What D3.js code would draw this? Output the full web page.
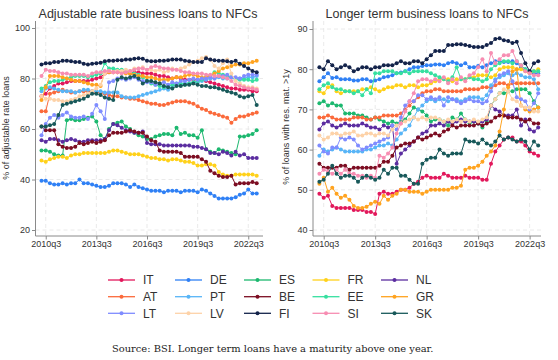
<!DOCTYPE html>
<html>
<head>
<meta charset="utf-8">
<script src="https://cdn.jsdelivr.net/npm/d3@7"></script>
<style>
  html, body { margin: 0; padding: 0; background: #fff; }
  svg { display: block; font-family: "Liberation Sans", Arial, sans-serif; }
</style>
</head>
<body>
<svg id="chart"></svg>
<script>
// quarters shown on the x axis
var quarters = ["2010q2","2010q3","2010q4",
  "2011q1","2011q2","2011q3","2011q4","2012q1","2012q2","2012q3","2012q4",
  "2013q1","2013q2","2013q3","2013q4","2014q1","2014q2","2014q3","2014q4",
  "2015q1","2015q2","2015q3","2015q4","2016q1","2016q2","2016q3","2016q4",
  "2017q1","2017q2","2017q3","2017q4","2018q1","2018q2","2018q3","2018q4",
  "2019q1","2019q2","2019q3","2019q4","2020q1","2020q2","2020q3","2020q4",
  "2021q1","2021q2","2021q3","2021q4","2022q1","2022q2","2022q3","2022q4",
  "2023q1"];
var xTickLabels = ["2010q3","2013q3","2016q3","2019q3","2022q3"];
var adjTicks = [20, 40, 60, 80, 100];
var lngTicks = [40, 50, 60, 70, 80, 90];

var countries = ["IT","DE","ES","FR","NL","AT","PT","BE","EE","GR","LT","LV","FI","SI","SK"];
var colors = ["#e2185b","#2f80f5","#1cb86f","#ffd11a","#5b2da0",
              "#fb6a3b","#58b5f7","#7c0d22","#36e0a0","#ffa31f",
              "#7f8cff","#fdd2a8","#13234a","#f78db2","#18595a"];

// share of adjustable rate loans (left panel)
var adjIT = [73,74,76,77, 78,78,78.5,79, 79,79,79,79, 79.5,80,80.5,82, 82.5,82.5,82.5,82.5, 82.5,82,82.5,82.5, 82,82,82,81.5, 81,81,80.5,80, 80.5,80,79.5,79.5, 79.5,79.5,79.5,79, 78.5,78,77.5,77, 76.5,76,76,75.5, 75.5,75.5,75,75];
var adjDE = [39.5,39.5,38.5,38, 38,38.5,38,38.5, 38.5,40,38.5,38.5, 38,37.5,37,37, 37.5,38.5,38.5,38.5, 38,37,38,37, 36.5,36,35.5,35.5, 35.5,35,35.5,35.5, 35.5,35,35.5,35.5, 35.5,35,36,35.5, 34.5,33.5,32.5,32.5, 32.5,32.5,33,34, 34.5,36,34.5,34.5];
var adjES = [51.5,51.5,51,50, 49.5,49.5,63.5,64, 63.5,63.5,64,64.5, 65,63,57.5,56, 60,62,62.5,63, 61,60,58.5,57.5, 57,56,56,57, 57.5,58,58,57.5, 60.5,58,58.5,57.5, 57.5,56.5,59.5,52, 51,50.5,52,51.5, 51,50.5,50,57, 57,57.5,58,59.5];
var adjFR = [47.5,47,48,48.5, 49,49,48.5,49.5, 50,50,50.5,50.5, 50.5,50.5,50.5,50.5, 51,51.5,51.5,51, 50.5,50,50,50, 49.5,49,48.5,48.5, 48,48,47.5,48, 48,47.5,47,47, 46.5,45.5,45.5,46, 46,45.5,43,42, 41.5,41.5,42,42, 42,42,42,41.5];
var adjNL = [55.5,55,56,56, 55.5,55,55.5,56, 55.5,55,55,55.5, 55.5,55.5,55.5,56, 59.5,62,61.5,60.5, 59.5,59,58.5,58.5, 59,54.5,54,54, 54,53.5,53.5,53.5, 53.5,53.5,53.5,53.5, 53,53,52.5,52, 50.5,50.5,50,51, 50.5,49.5,51,49.5, 50,48.5,48.5,48.5];
var adjAT = [67,67,74,74.5, 75,75.5,75,74.5, 74.5,75,75,75, 75,74.5,74.5,74, 73.5,73,73,72.5, 72.5,72,72,71.5, 71,70.5,70,70, 69.5,69.5,70,70.5, 71,71,71,70.5, 70,69,68,67.5, 66.5,66,65.5,65, 64.5,62.5,64,65, 65,65.5,66,66.5];
var adjPT = [75,76,76.5,76, 75.5,75,75,75, 74.5,75,75.5,75.5, 75,75,75,74.5, 74.5,74.5,74.5,73, 72.5,72.5,72.5,73, 73.5,74,74.5,75, 75.5,76,75.5,77, 77.5,77.5,78,78, 78.5,78.5,79,79.5, 80,80,80.5,80, 80,80.5,79.5,80, 80,80.5,80.5,81];
var adjBE = [61,59.5,59.5,59.5, 54,53,52.5,52.5, 53,54.5,54,54.5, 55,54.5,55,55.5, 57.5,58.5,58.5,58.5, 59,59.5,59,58.5, 58.5,57,55.5,55, 51.5,51,51,51, 51,50.5,49,49, 49,49,48,47, 43.5,42.5,41.5,41, 41,41.5,38,38.5, 38.5,38.5,39,38.5];
var adjEE = [76,77,78.5,79, 79,79.5,80,80.5, 81,81,81,80.5, 81,81.5,82,86, 84,84,83.5,83.5, 83,82.5,82,81.5, 80.5,79,78,77.5, 77,76.5,77,77.5, 78,78,77.5,78, 78.5,79,79.5,80.5, 81,82.5,82,81.5, 81,80.5,80,79.5, 79.5,79.5,79,79.5];
var adjGR = [71.5,76.5,81,81, 81,80.5,80,79.5, 79,79,78.5,78, 77.5,77.5,77,82.5, 82.5,82.5,82.5,82.5, 82,82,81.5,81, 81,80.5,80.5,80, 79.5,79.5,79.5,80, 80.5,80.5,81,81.5, 81.5,81,80.5,80.5, 81,82,83,84, 84.5,85,85.5,85.5, 86,86,86.5,87];
var adjLT = [57.5,62,64.5,65.5, 64.5,65.5,66.5,65, 64.5,64.5,65,64, 66,69.5,67,64, 78.5,79,80,80, 79.5,80,80.5,79.5, 79,78.5,78.5,77.5, 78,78.5,77.5,78.5, 78,79,79,79.5, 80,79.5,80,80, 80.5,80,81,81, 81.5,80.5,80.5,80, 81,81.5,81.5,81.5];
var adjLV = [73,72,72,71.5, 71.5,71,71,71.5, 72,73,73.5,74, 75,76,77.5,82, 83,82.5,83,83, 83.5,83,84,84, 84.5,83.5,83.5,83, 83.5,82.5,83,84, 83.5,84,84.5,85.5, 86.5,87,88,88.5, 87.5,85,84,86, 87.5,82,79,78, 77,76.5,76.5,76];
var adjFI = [85.5,86,86,86.5, 86.5,87,87,86.8, 86.5,86.5,85.8,85.5, 85.8,86,86.2,86.8, 87,87,87.2,87.2, 87.5,87.5,87.8,88, 87.8,87,86.8,86.8, 87,87,87.2,87.5, 87.5,87.5,87,86.8, 86.5,86.5,86.5,88, 87.5,87.2,87,87, 86.8,86.5,87,85.8, 85,84,83,82.5];
var adjSI = [81,83.5,83,83, 82.5,82,82,81.5, 81.5,81.5,81.5,81, 82,82.5,82.5,83, 83,82.5,82.5,82, 82.5,83,83.5,84, 84,83.5,84.5,85, 84.5,84,84,83.5, 83.5,83,82.5,82.5, 82,82,82,81.5, 81.5,81,81,80.5, 80,79,77.5,77, 76.5,76,76,75.5];
var adjSK = [61,61,61.5,62, 65.5,69.5,70,70.5, 71,71.5,72,73, 74,74,73.5,72.5, 72,71.5,79.5,80.5, 80,80.5,81,80, 78,79,79,78.5, 78,77,76.5,76, 77,77,77.5,77.5, 78,77.5,77,77, 76.5,76.5,76,75.5, 75,74.5,74,73, 72.5,73,73.5,69.5];

// share of loans with residual maturity above one year (right panel)
var lngIT = [49,48,48.5,46, 45.5,45.5,45.5,45.5, 45,45,45,44.5, 44.5,44,49,49.5, 49,49,49.5,50, 50,50.5,51.5,52, 53,53.5,53,53, 53,54,53.5,53, 53,53,53.5,53, 53,53,52.5,52.5, 56.5,59.5,61,62.5, 63,63,62,62, 61,59.5,59,58.5];
var lngDE = [77,78,79,77.8, 78,77.5,77.5,77.5, 77.2,77.2,77.5,77.5, 77,77.2,77.5,78, 78.2,78.5,79,79.2, 79.5,80,80.5,80.5, 80.8,81,81,81.2, 81.2,81,81.5,81.8, 81.5,81,81.5,80.5, 80.5,80.8,80.5,81, 81.5,82,82,81.8, 81.8,82,81.5,80.5, 80,79.5,79,79];
var lngES = [71.5,72,71,71.5, 71,71,69,69, 69,68.5,68.5,68, 67.5,68,67.5,67, 66.5,67,66.5,67, 67.5,69,70.5,70, 69.5,68.5,67,67.5, 67.5,67,66,68, 67.5,69,67.5,66.5, 67,66.5,65.5,67, 71,72.5,74,74, 74.5,74.5,75,75, 75,74,72,70.5];
var lngFR = [74.5,74,75.5,76, 74.5,74,74.5,74.5, 74.5,74.5,75,75, 75.5,75,74.5,75, 75.5,75.5,76,76, 75.5,76,76,75.5, 76,76,76.5,77, 77.5,77.5,77.5,77, 77.5,77.5,77.5,78, 78,78.5,78.5,78.5, 78,78.5,80,80.5, 80.5,80.5,80,80, 79.5,79,79.5,80];
var lngNL = [65,66.5,67,66, 65.5,66,66.5,66, 66,66,66.5,66, 65.5,65.5,65,66, 65.5,66,56.5,59, 60,61,62,63, 64,64.5,66,66, 66.5,66,67,66.5, 67,67.5,67,67, 67,66.5,67,67.5, 71,70,69.5,68.5, 68.5,68.5,70,66, 67.5,65,64.5,65.5];
var lngAT = [68,68,68.5,68, 67.5,67.5,67.5,67.5, 68,68,68,67.5, 67.5,68,68,68.5, 68.5,68.5,68.5,69, 70,71,72,73, 74,74.5,74.5,75, 75,74.5,74.5,74.5, 74.5,74.5,75,75, 75,75,75.5,75.5, 75.5,76,76.5,76.5, 76,76.5,76.5,76.5, 76.5,76.5,76.5,76.5];
var lngPT = [58.5,60,59.5,60, 60.5,60,59.5,59.5, 59.5,59.5,59.5,60, 60,60.5,61,61, 61.5,61,62.5,64, 65,66,68,70, 71,72,72.5,72, 72.5,72.5,72,72.5, 72.5,72,72.5,73, 73,73,72.5,73.5, 76,77.5,78,78.5, 79,78.5,79,78.5, 78,78,77.5,75];
var lngBE = [56.5,55.5,55.5,55.5, 55.5,56,56,55, 55.5,55.5,55.5,55.5, 55.5,55.5,56,57, 57,58.5,60.5,61, 61.5,61.5,62,63, 62.5,63,63.5,64, 63.5,64.5,65,66, 65.5,66,66,66, 66,66.5,66,66.5, 67,68,68.5,68.5, 68,68,68,67.5, 67,67.5,66.5,66.5];
var lngEE = [75,76,76.5,75.5, 75,75,74.5,74.5, 74,74.5,73.5,75, 74,79,79,79.5, 79.5,79.5,79,79, 79.5,79,79.5,79.5, 79.5,79.5,79,78.5, 78,77.5,77,78, 80.5,77.5,77.5,78, 77.5,77.5,77,77.5, 80,81,81.5,82, 82,81.5,82,81, 80,79.5,79.5,79.5];
var lngGR = [51.5,53,49.5,50.5, 49,48,48.5,47.5, 46,45.5,45.5,45.8, 46.5,47,46.5,48.5, 47.5,48.5,49,50, 50,49.5,49.5,49.5, 49,49.5,50,50, 50,50,50,50.5, 50.5,51,55,55.5, 55.5,56,57,58.5, 59.5,61,64.5,70, 75.5,79.5,80,71, 70,69.5,70,70.5];
var lngLT = [61,59.5,59,60.5, 60.5,63,62.5,63, 62.5,61,60,60.5, 61,61.5,62,62.5, 63,66,65,68, 71,72,72,73.5, 73.5,72.5,73,72.5, 73,71,73,72.5, 72,71.5,72,72.5, 72,72,71.5,72, 74.5,77,78.5,79, 79.5,77,73,72.5, 72,70,71.5,74];
var lngLV = [63.5,62.5,63,64, 64,63.5,64,64, 64.5,63.5,63.5,64, 64,63.5,64,64, 63.5,65,66,66.5, 67,67.5,68,67.5, 68,67.5,68,68, 67.5,67,67.5,67, 67.5,67,67.5,67, 67.5,67,67.5,68, 71,72.5,74,75, 74.5,72.5,72,71, 70.5,70.5,69.5,69.5];
var lngFI = [80.5,80,82,81, 80,80.5,81,80.5, 79.5,80,80.5,80.5, 80,80.5,80.5,81, 81,81,81.5,82, 81.5,81.5,82,82, 81.5,82.5,83.5,84.5, 84.5,84.5,86,86, 86.2,86.2,86,85.8, 85.5,85.5,85.5,86, 86.5,87.5,87.7,87.2, 87,86.5,86.8,84, 81.5,79.5,81.5,82];
var lngSI = [54,55,54.5,54, 55,54,55,54, 54,53.5,53.5,53, 53.5,53,58.5,58, 59,60.5,64,66.5, 69.5,72,74,77, 77.5,77.5,77,77.5, 77,78,76.5,77.5, 76.5,78,77,78.5, 79,80.5,82.5,79.5, 84,81.5,82.5,83.5, 83.5,84.5,82,81, 79.5,79,78.5,78.5];
var lngSK = [52,52.5,54,56, 54,53,53.5,53.5, 53,52,53,53.5, 53,52.5,53,55, 54,55.5,55.5,53.5, 53.5,52.5,51.5,51.5, 56.5,57.5,58,58, 60,59,58.5,59, 59,59,62.5,62, 62,61.5,62.5,61.5, 61,62,63.5,62.5, 63,62.5,62,62.5, 62,60,62,61];

var adjSeries = [adjIT, adjDE, adjES, adjFR, adjNL, adjAT, adjPT, adjBE, adjEE, adjGR, adjLT, adjLV, adjFI, adjSI, adjSK];
var lngSeries = [lngIT, lngDE, lngES, lngFR, lngNL, lngAT, lngPT, lngBE, lngEE, lngGR, lngLT, lngLV, lngFI, lngSI, lngSK];

var W = 558, H = 360;
var svg = d3.select("#chart").attr("width", W).attr("height", H);
svg.append("rect").attr("width", W).attr("height", H).attr("fill", "#fff");

var panels = [
  { title: "Adjustable rate business loans to NFCs", ytitle: "% of adjustable rate loans",
    series: adjSeries, ticks: adjTicks, yDomain: [20, 100], yRange: [230, 28],
    left: 35.5, right: 263, top: 21, bottom: 236, xRange: [41.5, 256.7],
    titleX: 148, ytitleX: 9, ytitleY: 128 },
  { title: "Longer term business loans to NFCs", ytitle: "% of loans with res. mat. >1y",
    series: lngSeries, ticks: lngTicks, yDomain: [40, 90], yRange: [230, 29],
    left: 313, right: 541, top: 21, bottom: 236, xRange: [319.4, 538.2],
    titleX: 427, ytitleX: 289, ytitleY: 127 }
];

panels.forEach(function (p) {
  var g = svg.append("g");
  var x = d3.scalePoint().domain(quarters).range(p.xRange);
  var y = d3.scaleLinear().domain(p.yDomain).range(p.yRange);

  // grid
  g.selectAll(".hgrid").data(p.ticks).enter().append("line")
    .attr("x1", p.left).attr("x2", p.right)
    .attr("y1", function (d) { return y(d); }).attr("y2", function (d) { return y(d); })
    .attr("stroke", "#e4e4e4").attr("stroke-width", 0.8).attr("stroke-dasharray", "4,3");
  g.selectAll(".vgrid").data(xTickLabels).enter().append("line")
    .attr("x1", function (d) { return x(d); }).attr("x2", function (d) { return x(d); })
    .attr("y1", p.top).attr("y2", p.bottom)
    .attr("stroke", "#e4e4e4").attr("stroke-width", 0.8).attr("stroke-dasharray", "4,3");

  // axes
  var ya = g.append("g").attr("transform", "translate(" + p.left + ",0)")
    .call(d3.axisLeft(y).tickValues(p.ticks).tickSize(3.5).tickPadding(2).tickSizeOuter(0));
  var xa = g.append("g").attr("transform", "translate(0," + p.bottom + ")")
    .call(d3.axisBottom(x).tickValues(xTickLabels).tickSize(3.5).tickPadding(1.5).tickSizeOuter(0));
  [ya, xa].forEach(function (a) {
    a.select(".domain").remove();
    a.selectAll(".tick line").attr("stroke", "#8a8a8a");
    a.selectAll(".tick text").attr("fill", "#333").style("font-size", "9px")
      .style("font-family", "'Liberation Sans', Arial, sans-serif");
  });
  g.append("line").attr("x1", p.left).attr("x2", p.left).attr("y1", p.top).attr("y2", p.bottom)
    .attr("stroke", "#8a8a8a").attr("stroke-width", 1);
  g.append("line").attr("x1", p.left).attr("x2", p.right).attr("y1", p.bottom).attr("y2", p.bottom)
    .attr("stroke", "#8a8a8a").attr("stroke-width", 1);

  // titles
  g.append("text").attr("x", p.titleX).attr("y", 18).attr("text-anchor", "middle")
    .attr("fill", "#333").style("font-size", "12.5px").text(p.title);
  g.append("text").attr("transform", "translate(" + p.ytitleX + "," + p.ytitleY + ") rotate(-90)")
    .attr("text-anchor", "middle").attr("fill", "#333").style("font-size", "9px").text(p.ytitle);

  // series
  var line = d3.line()
    .x(function (d, i) { return x(quarters[i]); })
    .y(function (d) { return y(d); });
  p.series.forEach(function (vals, k) {
    var s = g.append("g");
    s.append("path").datum(vals).attr("d", line)
      .attr("fill", "none").attr("stroke", colors[k]).attr("stroke-width", 1);
    s.selectAll("circle").data(vals).enter().append("circle")
      .attr("cx", function (d, i) { return x(quarters[i]); })
      .attr("cy", function (d) { return y(d); })
      .attr("r", 2).attr("fill", colors[k]);
  });
});

// legend, 5 columns x 3 rows, filled row by row
var legCols = [108, 175, 244, 312.5, 381];
var legRows = [280, 296.7, 313.3];
var leg = svg.append("g").selectAll("g").data(countries).enter().append("g")
  .attr("transform", function (d, i) {
    return "translate(" + legCols[i % 5] + "," + legRows[Math.floor(i / 5)] + ")";
  });
leg.append("line").attr("x1", 0).attr("x2", 27).attr("y1", 0).attr("y2", 0)
  .attr("stroke", function (d, i) { return colors[i]; }).attr("stroke-width", 1.3);
leg.append("circle").attr("cx", 13.5).attr("cy", 0).attr("r", 2)
  .attr("fill", function (d, i) { return colors[i]; });
leg.append("text").attr("x", 35).attr("y", 0).attr("dy", "0.36em")
  .attr("fill", "#333").style("font-size", "12px").text(function (d) { return d; });

svg.append("text").attr("x", 112).attr("y", 352)
  .style("font-family", "'DejaVu Serif', serif").style("font-size", "9.9px").attr("fill", "#222")
  .text("Source: BSI. Longer term loans have a maturity above one year.");
</script>
</body>
</html>
